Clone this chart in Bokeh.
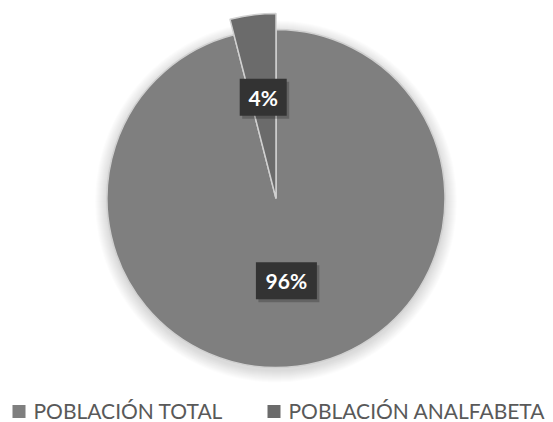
import numpy as np
from bokeh.plotting import figure
from bokeh.models import Range1d, ColumnDataSource
from bokeh.core.properties import value
from bokeh.embed import file_html
from bokeh.resources import INLINE

# ---- data ----
categories = ["POBLACIÓN TOTAL", "POBLACIÓN ANALFABETA"]
shares = [96, 4]
slice_colors = ["#7f7f7f", "#6b6b6b"]

# ---- layout (screen-like coordinates: x right, y = 422 - screen_y) ----
W, H = 553, 422
def sy(v):
    return H - v

cx, cy = 275.5, sy(198)
R = 169
radii = [R, R + 16]          # the small slice is pulled outward
label_r = [83, 102]

fr = np.array(shares, dtype=float) / sum(shares)
cum = np.concatenate([[0], np.cumsum(fr)])
start = np.deg2rad(90 - 360 * cum[:-1])
end = np.deg2rad(90 - 360 * cum[1:])
mid = (start + end) / 2
labels = [f"{s}%" for s in shares]

lx = cx + np.array(label_r) * np.cos(mid)
ly = cy + np.array(label_r) * np.sin(mid)
lw = [19 + 14 * len(t) for t in labels]

src = ColumnDataSource(dict(
    x=[cx] * len(shares), y=[cy] * len(shares), r=radii,
    start=start, end=end, color=slice_colors,
    lx=lx, ly=ly, lw=lw, sx=lx + 2.5, sy=ly - 3, text=labels,
))

p = figure(width=W, height=H, output_backend="svg", toolbar_location=None,
           x_range=Range1d(0, W), y_range=Range1d(0, H),
           min_border=0, outline_line_color=None,
           background_fill_color="white", border_fill_color="white")
p.axis.visible = False
p.grid.visible = False

# soft shadow / glow around the pie
for k in range(1, 13):
    p.circle(x=[cx], y=[cy - 3], radius=R + k, fill_color="#000000",
             fill_alpha=0.012, line_color=None)

p.wedge(x="x", y="y", radius="r", start_angle="start", end_angle="end",
        direction="clock", fill_color="color", line_color="#d0d0d0",
        line_width=1.5, source=src)

# data labels: dark boxes with shadow
p.rect(x="sx", y="sy", width="lw", height=37, fill_color="#000000",
       fill_alpha=0.22, line_color=None, source=src)
p.rect(x="lx", y="ly", width="lw", height=37, fill_color="#333333",
       line_color=None, source=src)
p.text(x="lx", y="ly", text="text", text_align="center",
       text_baseline="middle", text_color="white",
       text_font=value("Lato"), text_font_style="bold",
       text_font_size="21px", source=src)

# legend
leg_x = [12, 267]
leg_src = ColumnDataSource(dict(
    sx=[x + 6.5 for x in leg_x], sy=[sy(411)] * 2,
    tx=[x + 21 for x in leg_x], ty=[sy(410)] * 2,
    color=slice_colors, text=categories))
p.rect(x="sx", y="sy", width=13, height=13, fill_color="color",
       line_color=None, source=leg_src)
p.text(x="tx", y="ty", text="text", text_align="left",
       text_baseline="middle", text_color="#595959",
       text_font=value("Lato"), text_font_size="21px", source=leg_src)

open("out.html", "w").write(file_html(p, INLINE))
